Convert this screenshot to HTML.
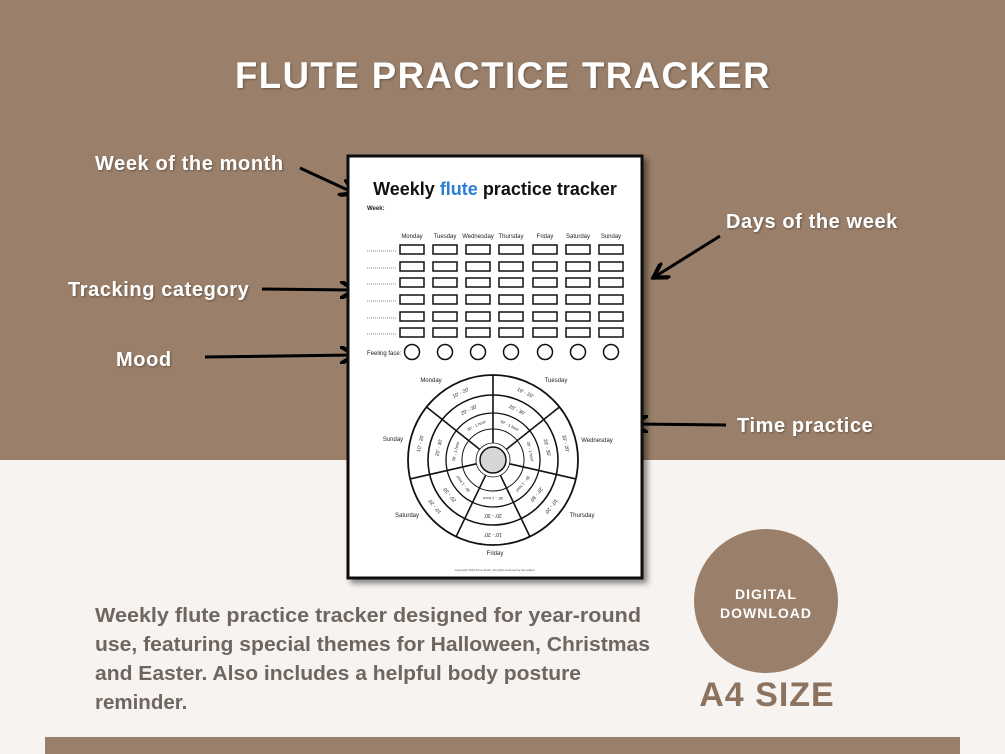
<!DOCTYPE html>
<html><head><meta charset="utf-8"><style>
html,body{margin:0;padding:0;width:1005px;height:754px;overflow:hidden;background:#f7f3f0}
svg{display:block}
.lbl{font-family:"Liberation Sans",sans-serif;font-weight:bold;font-size:20px;letter-spacing:0.6px;fill:#fff}
.sm{font-family:"Liberation Sans",sans-serif;font-size:6px;fill:#222}
.r{font-family:"Liberation Sans",sans-serif;font-size:5px;fill:#222}
</style></head><body>
<svg width="1005" height="754" viewBox="0 0 1005 754" xmlns="http://www.w3.org/2000/svg">
<defs>
<marker id="ah" markerWidth="6" markerHeight="6" refX="4" refY="3" orient="auto" markerUnits="strokeWidth">
<path d="M0,0 L5,3 L0,6" fill="none" stroke="#000" stroke-width="1.4"/>
</marker>
<filter id="sh" x="-10%" y="-10%" width="130%" height="130%"><feDropShadow dx="4" dy="4" stdDeviation="3" flood-color="#000" flood-opacity="0.45"/></filter>
<filter id="ts"><feDropShadow dx="1" dy="1" stdDeviation="1" flood-color="#000" flood-opacity="0.35"/></filter>
</defs>
<rect x="0" y="0" width="1005" height="460" fill="#9a806a"/>
<rect x="0" y="460" width="1005" height="294" fill="#f7f3f0"/>
<rect x="45" y="737" width="915" height="17" fill="#9a806a"/>

<text x="503" y="88" text-anchor="middle" font-family="Liberation Sans,sans-serif" font-weight="bold" font-size="37" letter-spacing="1.5" textLength="536" lengthAdjust="spacingAndGlyphs" fill="#fff" filter="url(#ts)">FLUTE PRACTICE TRACKER</text>

<g filter="url(#ts)">
<text class="lbl" x="95" y="170">Week of the month</text>
<text class="lbl" x="68" y="296">Tracking category</text>
<text class="lbl" x="116" y="366">Mood</text>
<text class="lbl" x="726" y="228">Days of the week</text>
<text class="lbl" x="737" y="432">Time practice</text>
</g>
<g stroke="#000" stroke-width="3" marker-end="url(#ah)">
<line x1="300" y1="168" x2="352" y2="192"/>
<line x1="262" y1="289" x2="352" y2="290"/>
<line x1="205" y1="357" x2="352" y2="355"/>
<line x1="720" y1="236" x2="656" y2="276"/>
<line x1="726" y1="425" x2="636" y2="424"/>
</g>

<rect x="348" y="156" width="294" height="422" fill="#fff" stroke="#111" stroke-width="3" filter="url(#sh)"/>
<text x="495" y="195" text-anchor="middle" font-family="Liberation Sans,sans-serif" font-weight="bold" font-size="18" fill="#111">Weekly <tspan fill="#2a7fd4">flute</tspan> practice tracker</text>
<text class="sm" x="367" y="210" font-weight="bold">Week:</text>
<g class="sm" text-anchor="middle" font-size="5.5">
<text x="412" y="238">Monday</text><text x="445" y="238">Tuesday</text><text x="478" y="238">Wednesday</text><text x="511" y="238">Thursday</text><text x="545" y="238">Friday</text><text x="578" y="238">Saturday</text><text x="611" y="238">Sunday</text>
</g>
<g fill="none" stroke="#111" stroke-width="1.5">
<g id="row">
<rect x="400" y="245" width="24" height="9"/><rect x="433" y="245" width="24" height="9"/><rect x="466" y="245" width="24" height="9"/><rect x="499" y="245" width="24" height="9"/><rect x="533" y="245" width="24" height="9"/><rect x="566" y="245" width="24" height="9"/><rect x="599" y="245" width="24" height="9"/>
<line x1="367" y1="251" x2="397" y2="251" stroke-width="0.6" stroke-dasharray="1,1"/>
</g>
<use href="#row" y="17"/><use href="#row" y="33"/><use href="#row" y="50"/><use href="#row" y="67"/><use href="#row" y="83"/>
<circle cx="412" cy="352" r="7.5"/><circle cx="445" cy="352" r="7.5"/><circle cx="478" cy="352" r="7.5"/><circle cx="511" cy="352" r="7.5"/><circle cx="545" cy="352" r="7.5"/><circle cx="578" cy="352" r="7.5"/><circle cx="611" cy="352" r="7.5"/>
</g>
<text class="sm" x="367" y="355">Feeling face:</text>

<g class="sm" font-size="7" text-anchor="middle">
<text x="431" y="382">Monday</text><text x="556" y="382">Tuesday</text><text x="393" y="441">Sunday</text>
<text x="597" y="442">Wednesday</text><text x="407" y="517">Saturday</text><text x="582" y="517">Thursday</text><text x="495" y="555">Friday</text>
</g>
<g transform="translate(493,460)">
<g fill="none" stroke="#111">
<circle r="85" stroke-width="1.8"/><circle r="65" stroke-width="1.6"/><circle r="47" stroke-width="1.3"/><circle r="31" stroke-width="1"/><circle r="17" stroke-width="0.8"/>
</g>
<circle r="13" fill="#d6d6d6" stroke="#111" stroke-width="1.5"/>
<g stroke="#111" stroke-width="1.6">
<line x1="17" x2="85" transform="rotate(-90)"/><line x1="17" x2="85" transform="rotate(-38.57)"/><line x1="17" x2="85" transform="rotate(12.86)"/><line x1="17" x2="85" transform="rotate(64.29)"/><line x1="17" x2="85" transform="rotate(115.71)"/><line x1="17" x2="85" transform="rotate(167.14)"/><line x1="17" x2="85" transform="rotate(218.57)"/>
</g>
<g class="r" text-anchor="middle">
<g transform="rotate(-64.3)"><text transform="translate(75,0) rotate(90)" y="2">10' - 20'</text><text transform="translate(56,0) rotate(90)" y="2">20' - 30'</text><text transform="translate(39,0) rotate(90)" y="2" font-size="4">30' - 1 hour</text></g>
<g transform="rotate(-12.9)"><text transform="translate(75,0) rotate(90)" y="2">10' - 20'</text><text transform="translate(56,0) rotate(90)" y="2">20' - 30'</text><text transform="translate(39,0) rotate(90)" y="2" font-size="4">30' - 1 hour</text></g>
<g transform="rotate(38.6)"><text transform="translate(75,0) rotate(90)" y="2">10' - 20'</text><text transform="translate(56,0) rotate(90)" y="2">20' - 30'</text><text transform="translate(39,0) rotate(90)" y="2" font-size="4">30' - 1 hour</text></g>
<g transform="rotate(90)"><text transform="translate(75,0) rotate(90)" y="2">10' - 20'</text><text transform="translate(56,0) rotate(90)" y="2">20' - 30'</text><text transform="translate(39,0) rotate(90)" y="2" font-size="4">30' - 1 hour</text></g>
<g transform="rotate(141.4)"><text transform="translate(75,0) rotate(90)" y="2">10' - 20'</text><text transform="translate(56,0) rotate(90)" y="2">20' - 30'</text><text transform="translate(39,0) rotate(90)" y="2" font-size="4">30' - 1 hour</text></g>
<g transform="rotate(192.9)"><text transform="translate(75,0) rotate(90)" y="2">10' - 20'</text><text transform="translate(56,0) rotate(90)" y="2">20' - 30'</text><text transform="translate(39,0) rotate(90)" y="2" font-size="4">30' - 1 hour</text></g>
<g transform="rotate(244.3)"><text transform="translate(75,0) rotate(90)" y="2">10' - 20'</text><text transform="translate(56,0) rotate(90)" y="2">20' - 30'</text><text transform="translate(39,0) rotate(90)" y="2" font-size="4">30' - 1 hour</text></g>
</g>
</g>
<text x="495" y="571" text-anchor="middle" font-family="Liberation Sans,sans-serif" font-size="3" fill="#555">Copyright 2023 Anna Ziraki. All rights reserved by the author.</text>

<g font-family="Liberation Sans,sans-serif" font-weight="bold" font-size="20.5" fill="#6f6660">
<text x="95" y="622" textLength="546" lengthAdjust="spacingAndGlyphs">Weekly flute practice tracker designed for year-round</text>
<text x="95" y="651" textLength="555" lengthAdjust="spacingAndGlyphs">use, featuring special themes for Halloween, Christmas</text>
<text x="95" y="680" textLength="486" lengthAdjust="spacingAndGlyphs">and Easter. Also includes a helpful body posture</text>
<text x="95" y="709">reminder.</text>
</g>

<circle cx="766" cy="601" r="72" fill="#9a806a"/>
<g font-family="Liberation Sans,sans-serif" font-weight="bold" font-size="14" fill="#fff" text-anchor="middle" letter-spacing="1">
<text x="766" y="599">DIGITAL</text><text x="766" y="618">DOWNLOAD</text>
</g>
<text x="767" y="706" text-anchor="middle" font-family="Liberation Sans,sans-serif" font-weight="bold" font-size="34" fill="#8b735f" letter-spacing="1">A4 SIZE</text>
</svg>
</body></html>
